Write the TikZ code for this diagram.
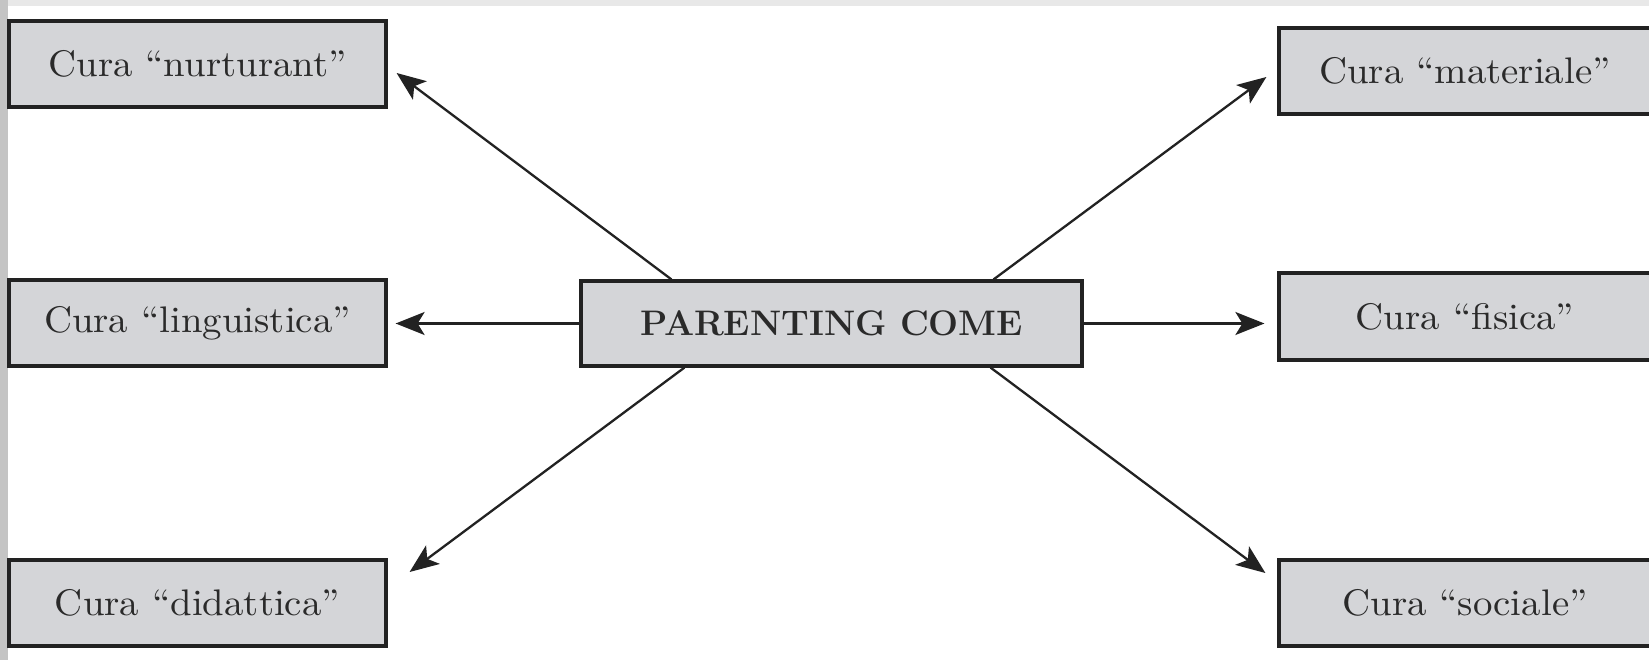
\documentclass[tikz,border=0pt]{standalone}
\usepackage{fontspec}
\newfontfamily\widefont[FakeStretch=1.05]{lmroman10-regular.otf}
\usetikzlibrary{arrows.meta}
\definecolor{boxfill}{HTML}{D4D5D8}
\definecolor{ink}{HTML}{222222}
\definecolor{txt}{HTML}{2A2A2A}
\definecolor{topstrip}{HTML}{E8E8E8}
\definecolor{leftstrip}{HTML}{C4C4C4}
\tikzset{
  lbl/.style={draw=ink, line width=3.2pt, fill=boxfill, text=txt, inner sep=0pt,
    minimum height=86pt, font=\widefont\fontsize{37}{40}\selectfont},
  lbox/.style={lbl, minimum width=377pt},
  rbox/.style={lbl, minimum width=372pt},
  cbox/.style={lbl, minimum width=501pt, minimum height=85pt, font=\rmfamily\fontsize{35.5}{40}\selectfont\bfseries},
  arr/.style={draw=ink, line width=2.3pt, -{Stealth[length=29pt,width=23pt,inset=7pt]}}
}
\begin{document}
\begin{tikzpicture}[x=1pt,y=-1pt]
\useasboundingbox (0,0) rectangle (1649,660);
\fill[white] (0,0) rectangle (1649,660);
\fill[topstrip] (0,0) rectangle (1649,6);
\fill[leftstrip] (0,0) rectangle (8,660);
\begin{scope}
\clip (0,0) rectangle (1649,660);
\node[cbox] (c) at (831.5,323.5) {PARENTING COME};
\node[lbox] (nurt) at (197.5,64) {Cura “nurturant”};
\node[lbox] (ling) at (197.5,323) {Cura “linguistica”};
\node[lbox] (dida) at (197.5,603) {Cura “didattica”};
\node[rbox] (mat) at (1465,71) {Cura “materiale”};
\node[rbox, minimum height=87pt] (fis) at (1465,316.5) {Cura “fisica”};
\node[rbox] (soc) at (1465,603) {Cura “sociale”};
\end{scope}
\coordinate (tl) at ([xshift=9pt,yshift=-9pt]nurt.east);
\coordinate (tr) at ([xshift=-11pt,yshift=-6pt]mat.west);
\coordinate (bl) at ([xshift=22pt,yshift=31pt]dida.east);
\coordinate (br) at ([xshift=-12pt,yshift=30pt]soc.west);
\draw[arr] ([xshift=92pt]c.north west) -- (tl);
\draw[arr] ([xshift=-90pt]c.north east) -- (tr);
\draw[arr] (c.west) -- ([xshift=8pt]c.west -| ling.east);
\draw[arr] (c.east) -- ([xshift=-13pt]c.east -| fis.west);
\draw[arr] ([xshift=105pt]c.south west) -- (bl);
\draw[arr] ([xshift=-93pt]c.south east) -- (br);
\end{tikzpicture}
\end{document}
